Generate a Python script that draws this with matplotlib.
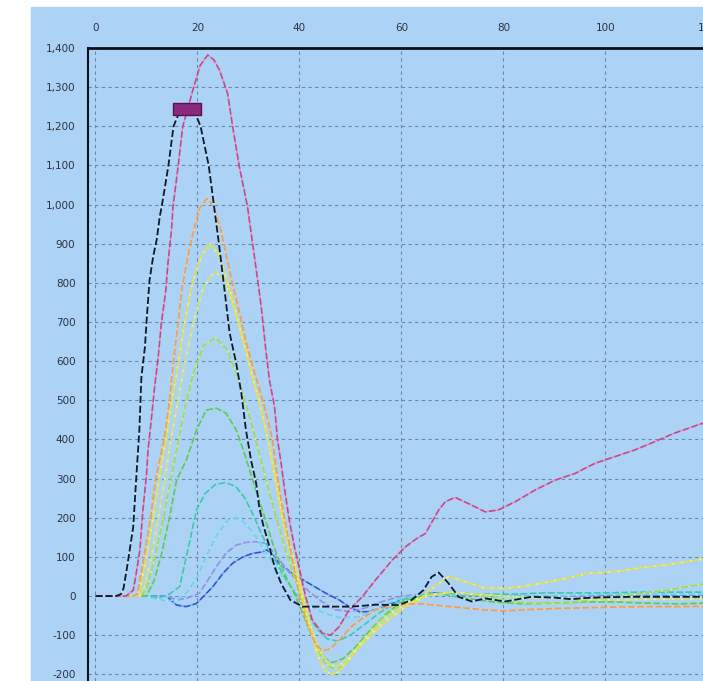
import numpy as np
import matplotlib.pyplot as plt
import matplotlib.colors as mcolors
from matplotlib.patches import Rectangle
from matplotlib.path import Path
from matplotlib.ticker import FuncFormatter

#%% Données des courbes

x_black = [0, 4, 5, 5.5, 6.1, 6.7, 7.4, 8.0, 8.6, 9.0, 9.7, 10.0, 10.6, 11.3, 12.0, 12.6, 13.2, 14.3, 15.3, 16.5, 18,
           19.5, 20.6, 22.2, 23.2, 24.2, 25.3, 26.3, 27.6, 28.6, 29.5, 30.5, 31.5, 32.1, 32.8, 34.1, 35.1, 36.4, 38.2,
           40.6, 45, 50.3, 55, 59.5, 62, 64.3, 65.9, 67.3, 69.2, 71.2, 73.8, 76.4, 80.3, 85.5, 90, 93.3, 96, 100, 105,
           110, 115, 120]
y_black = [0, 0, 5, 20, 66, 117, 177, 304, 424, 560, 637, 700, 807, 867, 910, 969, 1012, 1100, 1200, 1238, 1245,
           1235, 1200, 1100, 1000, 900, 782, 672, 594, 518, 424, 347, 288, 228, 186, 126, 75, 32, -10,
           -27, -27, -27, -22, -23, -10, 15, 49, 60, 33, -2, -14, -6, -14, -2, -4, -8, -5, -3, -2,
           -2, -2, -2]

x_pink = [0, 6, 7.4, 8.0, 8.7, 9.3, 10.0, 10.3, 11.0, 11.6, 12.3, 12.9, 13.8, 14.2, 14.9, 15.2, 16.2, 17.1, 19.1,
          20.5, 22.0, 23.2, 24.3, 25.9, 26.9, 28.2, 29.8, 30.8, 31.8, 32.5, 33.4, 34.1, 35.1, 35.7, 36.4, 37.0, 38.0,
          39.0, 39.9, 41.2, 42.5, 44.5, 46.1, 47.8, 49.7, 52.3, 54.9, 58.2, 60.8, 63.0, 64.7, 67.3, 68.6, 70.5, 73.8,
          76.4, 79.0, 82.3, 86.2, 90.1, 94.0, 97.9, 101.8, 105.7, 109.6, 113.5, 118.1, 120]
y_pink = [0, 0, 15, 59, 118, 220, 310, 373, 458, 535, 611, 695, 782, 850, 935, 995, 1097, 1199, 1293,
          1355, 1382, 1370, 1344, 1284, 1199, 1097, 995, 901, 807, 739, 628, 552, 484, 399, 339, 279, 194,
          126, 75, -2, -61, -95, -100, -78, -36, -2, 41, 92, 126, 147, 160, 220, 241, 252, 232,
          215, 220, 241, 271, 296, 313, 339, 356, 373, 394, 416, 437, 445]

x_orange = [0, 7.5, 8.2, 9.5, 10.8, 11.8, 12.8, 13.7, 14.5, 15.3, 16.2, 17.0, 18.6, 20.4, 21.8, 23.0, 24.5, 25.8,
            27.0, 28.3, 29.5, 31.2, 33.0, 34.7, 35.7, 37.0, 38.5, 40.0, 41.5, 43.0, 44.5, 46.0, 48.0, 50.0, 52.5,
            55.0, 58.0, 61.0, 64.0, 68.0, 72.0, 76.0, 80.0, 84.0, 90, 96, 102, 108, 114, 120]
y_orange = [0, 0, 5, 100, 200, 300, 360, 420, 500, 600, 700, 790, 900, 990, 1015, 1000, 940, 860,
            790, 720, 650, 570, 490, 400, 300, 200, 100, 0, -70, -120, -140, -135, -110, -80, -55,
            -35, -25, -20, -20, -25, -30, -35, -38, -35, -32, -30, -28, -27, -27, -26]

x_yellow = [0, 8, 8.8, 10, 11.3, 12.5, 13.8, 15, 16.3, 17.5, 19, 20.8, 22.5, 24.2, 26.0, 27.6, 29.2, 30.8, 32.4,
            33.8, 35.2, 36.6, 38.0, 39.3, 40.5, 42.0, 43.5, 45.0, 46.2, 47.5, 49.5, 51.7, 55.0, 58.2, 60.8, 63.4,
            66.0, 69.2, 72.5, 76.4, 81.0, 85.5, 90.7, 96.6, 101.8, 106.3, 111.6, 118.0, 120]
y_yellow = [0, 0, 20, 100, 200, 300, 400, 500, 600, 700, 800, 870, 900, 870, 800, 720, 640, 560, 480,
            400, 300, 200, 120, 60, 0, -80, -150, -190, -200, -195, -165, -130, -87, -53, -27, -10,
            20, 49, 37, 20, 20, 28, 41, 58, 62, 71, 79, 92, 95]

x_khaki = [0, 8.5, 9.5, 11, 12.3, 13.6, 14.8, 16.2, 17.6, 19.2, 21.2, 23.5, 25.5, 27.3, 29.0, 30.6, 32.2, 33.8,
           35.2, 36.6, 38.0, 39.4, 40.8, 42.3, 44.0, 45.8, 47.5, 49.5, 52.0, 55.0, 58.0, 61.0, 65.0, 70.0, 75.0,
           80, 86, 92, 98, 104, 110, 116, 120]
y_khaki = [0, 0, 20, 100, 200, 300, 400, 500, 600, 700, 790, 830, 800, 730, 650, 570, 490, 400,
           310, 220, 140, 70, 0, -80, -140, -175, -180, -160, -120, -80, -45, -20, 0, 10, 5,
           0, -5, -5, -10, -10, -8, -8, -5]

x_lime = [0, 9, 10, 11.5, 13, 14.5, 16, 17.5, 19.2, 21.2, 23.5, 25.8, 27.6, 29.3, 31.0, 32.6, 34.2, 35.7, 37.2,
          38.7, 40.2, 41.7, 43.3, 45.0, 46.5, 48.4, 50.5, 53.0, 56.0, 59.0, 62.0, 66.0, 70.0, 76.0, 82, 88, 94,
          100, 106, 112, 118, 120]
y_lime = [0, 0, 20, 90, 180, 280, 380, 480, 570, 640, 660, 630, 570, 500, 420, 340, 260, 190, 120,
          60, 0, -70, -130, -170, -185, -181, -150, -105, -60, -30, -10, 5, 10, 0, -15, -20, -15,
          -5, 5, 15, 28, 32]

x_green = [0, 10, 11.5, 13, 14.5, 15.9, 17.8, 19.8, 21.7, 23.7, 25.6, 27.6, 29.2, 30.2, 31.7, 33.2, 34.6, 36.0,
           37.5, 39.0, 40.5, 42.0, 43.5, 45.0, 46.5, 48.5, 51.0, 54.0, 57.0, 60.0, 64.0, 68.0, 72.0, 78, 84, 90,
           96, 102, 108, 114, 120]
y_green = [0, 0, 40, 110, 200, 296, 347, 424, 475, 480, 467, 424, 365, 322, 260, 200, 140, 90,
           45, 5, -40, -90, -130, -160, -170, -160, -130, -85, -45, -15, 0, 5, -5, -15, -20, -18,
           -15, -15, -18, -20, -18]

x_teal = [0, 11, 12.5, 14.5, 16.5, 18.4, 19.8, 21.5, 23.5, 25.5, 27.5, 29.3, 31.0, 32.5, 34.0, 35.5, 37.0, 38.5,
          40.0, 41.8, 43.5, 45.5, 47.5, 50, 53, 56, 60, 65, 70, 76, 82, 88, 94, 100, 106, 112, 118, 120]
y_teal = [0, 0, -5, 5, 24, 135, 220, 262, 285, 290, 280, 250, 205, 160, 120, 85, 50, 20,
          -10, -50, -85, -110, -115, -100, -70, -40, -10, 5, 8, 5, 5, 8, 8, 8, 10, 10, 10, 10]

x_cyan = [0, 10, 12, 14, 16, 18, 20, 22, 24, 26, 27.5, 29, 31, 33, 35, 37, 39, 41, 43, 45, 47.8, 51.7, 54, 57,
          60, 65, 70, 80, 90, 100, 110, 120]
y_cyan = [0, 0, -8, -12, -10, 10, 50, 110, 160, 195, 200, 190, 160, 120, 80, 45, 15, -10, -30, -45, -55, -53, -40,
          -20, -5, 5, 5, 0, 0, 5, 5, 5]

x_lav = [0, 14, 16, 18, 20.4, 22, 23.7, 25.6, 27.6, 29.5, 31.5, 33.4, 35.0, 36.5, 38.0, 40.0, 42.0, 44.5, 47.0,
         50.0, 53.0, 56.0, 60.0, 65.0, 70, 80, 90, 100, 110, 120]
y_lav = [0, 0, -10, -5, 8, 40, 75, 110, 130, 137, 139, 135, 110, 85, 60, 35, 10, -15, -35,
         -40, -30, -15, 0, 5, 5, 2, 0, 0, 0, 0]

x_blue = [0, 13.9, 15.9, 17.8, 19.8, 21.1, 23.0, 25.0, 26.9, 28.9, 30.8, 32.8, 33.6, 34.5, 36.0, 38.6, 41.9, 45.2,
          47.8, 49.7, 51.7, 53.5, 56.0, 59.0, 62.0, 66.0, 70.0, 75.0, 80, 90, 100, 110, 120]
y_blue = [0, 0, -23, -27, -19, -2, 24, 58, 84, 100, 109, 113, 118, 108, 84, 58, 32, 7,
          -10, -27, -40, -40, -30, -15, 0, 8, 5, 2, 0, 0, 0, 0, 0]

# (x, y, couleur) dans l'ordre de tracé
courbes = [
    (x_blue, y_blue, '#2f55d4'),
    (x_lav, y_lav, '#8c94e4'),
    (x_cyan, y_cyan, '#6fd2f0'),
    (x_teal, y_teal, '#3cc8b4'),
    (x_green, y_green, '#5cc860'),
    (x_lime, y_lime, '#a4dc4c'),
    (x_khaki, y_khaki, '#d4e070'),
    (x_yellow, y_yellow, '#e6e23a'),
    (x_orange, y_orange, '#f0a050'),
    (x_pink, y_pink, '#c8468a'),
]

fond = '#acd3f6'

def eclairci(c, f=0.45):
    r = np.array(mcolors.to_rgb(c))
    return tuple(r + (1 - r) * f)

#%% Tracé

fig = plt.figure(figsize=(7.03, 6.81), dpi=100)
fig.patches.append(Rectangle((31/703, 0), 1, 674/681, transform=fig.transFigure,
                             color=fond, zorder=-1))

ax = fig.add_axes([88/703, 0, 619.5/703, 633/681])
ax.set_zorder(1)
ax.set_facecolor(fond)
ax.set_xlim(-1.47, 120)
ax.set_ylim(-217, 1400)

for xs, ys, c in courbes:
    ax.plot(xs, ys, color=c, lw=1.2, linestyle=(0, (4, 1.5)), gapcolor=eclairci(c), zorder=3)

ax.plot(x_black, y_black, color='#0d1a2e', lw=1.3, linestyle=(0, (4, 1.5)),
        gapcolor='#c4e2f8', zorder=4)

# étiquette au sommet de la courbe noire
i = int(np.argmax(y_black))
boite = Path([(-1, -0.48), (1, -0.48), (1, 0.48), (-1, 0.48), (-1, -0.48)],
             [Path.MOVETO, Path.LINETO, Path.LINETO, Path.LINETO, Path.CLOSEPOLY])
ax.plot(x_black[i], y_black[i], marker=boite, markersize=19.5, color='#8a2a7c',
        markeredgecolor='#5a1050', zorder=5)

ax.set_xticks(range(0, 121, 20))
ax.set_yticks(range(-200, 1401, 100))
ax.yaxis.set_major_formatter(FuncFormatter(lambda v, p: f'{int(v):,}'))
ax.xaxis.tick_top()
ax.tick_params(axis='x', length=0, pad=11, labelsize=7.5, labelcolor='#2c3140')
ax.tick_params(axis='y', length=0, pad=9, labelsize=7.5, labelcolor='#2c3140')

ax.grid(True, color='#6a88a8', linestyle=(0, (3, 3)), lw=0.8, zorder=1)
ax.set_axisbelow(True)

ax.spines['top'].set_linewidth(2)
ax.spines['top'].set_color('#0a0f1c')
ax.spines['left'].set_linewidth(1.5)
ax.spines['left'].set_color('#0a0f1c')
ax.spines['right'].set_visible(False)
ax.spines['bottom'].set_visible(False)

plt.savefig('out.png', dpi=100)
